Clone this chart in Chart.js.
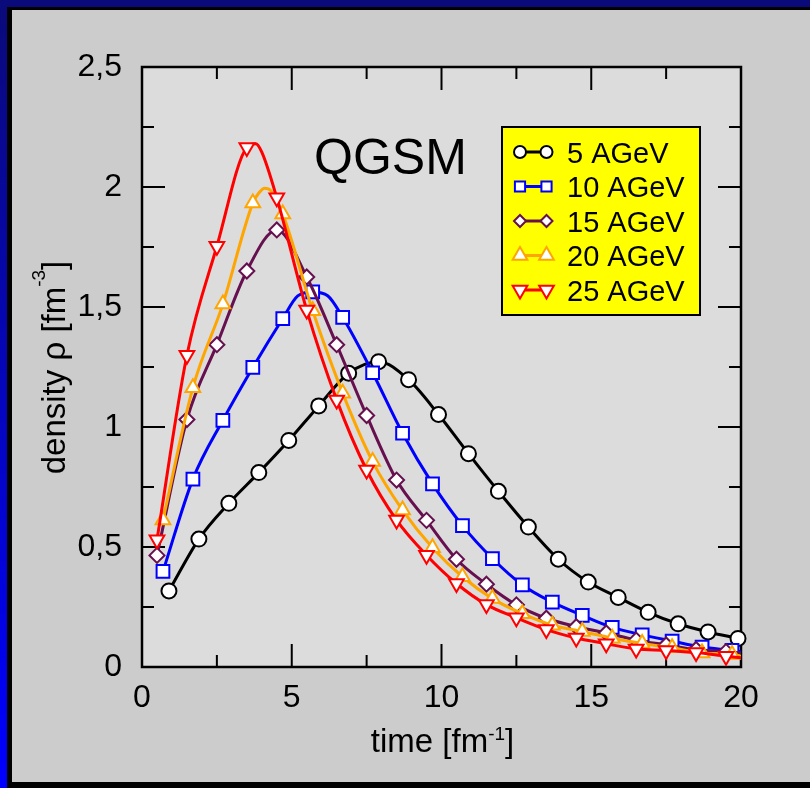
<!DOCTYPE html>
<html>
<head>
<meta charset="utf-8">
<script src="https://cdn.jsdelivr.net/npm/chart.js@4.4.1/dist/chart.umd.min.js"></script>
<style>
  html, body { margin: 0; padding: 0; background: #cccccc; }
  #wrap { width: 810px; height: 788px; }
</style>
</head>
<body>
<div id="wrap"><canvas id="densityChart" width="810" height="788"></canvas></div>
<script>
// QGSM: baryon density in the central cell vs. time for several beam energies
const seriesLabels = ['5 AGeV', '10 AGeV', '15 AGeV', '20 AGeV', '25 AGeV'];

// marker points
const t5 = [0.9, 1.9, 2.9, 3.9, 4.9, 5.9, 6.9, 7.9, 8.9, 9.9, 10.9, 11.9, 12.9, 13.9, 14.9, 15.9, 16.9, 17.9, 18.9, 19.9];
const rho5 = [0.317, 0.533, 0.682, 0.810, 0.944, 1.088, 1.224, 1.272, 1.197, 1.052, 0.889, 0.732, 0.583, 0.449, 0.354, 0.290, 0.228, 0.180, 0.146, 0.119];

const t10 = [0.7, 1.7, 2.7, 3.7, 4.7, 5.7, 6.7, 7.7, 8.7, 9.7, 10.7, 11.7, 12.7, 13.7, 14.7, 15.7, 16.7, 17.7, 18.7, 19.7];
const rho10 = [0.398, 0.783, 1.028, 1.248, 1.452, 1.563, 1.457, 1.226, 0.974, 0.763, 0.589, 0.452, 0.342, 0.270, 0.215, 0.165, 0.134, 0.108, 0.083, 0.069];

const t15 = [0.5, 1.5, 2.5, 3.5, 4.5, 5.5, 6.5, 7.5, 8.5, 9.5, 10.5, 11.5, 12.5, 13.5, 14.5, 15.5, 16.5, 17.5, 18.5, 19.5];
const rho15 = [0.465, 1.031, 1.343, 1.650, 1.821, 1.625, 1.343, 1.048, 0.779, 0.611, 0.449, 0.345, 0.259, 0.203, 0.168, 0.142, 0.112, 0.092, 0.073, 0.064];

const t20 = [0.7, 1.7, 2.7, 3.7, 4.7, 5.7, 6.7, 7.7, 8.7, 9.7, 10.7, 11.7, 12.7, 13.7, 14.7, 15.7, 16.7, 17.7, 18.7, 19.7];
const rho20 = [0.613, 1.164, 1.512, 1.933, 1.887, 1.484, 1.141, 0.856, 0.654, 0.497, 0.376, 0.285, 0.222, 0.174, 0.148, 0.120, 0.098, 0.080, 0.058, 0.052];

const t25 = [0.5, 1.5, 2.5, 3.5, 4.5, 5.5, 6.5, 7.5, 8.5, 9.5, 10.5, 11.5, 12.5, 13.5, 14.5, 15.5, 16.5, 17.5, 18.5, 19.5];
const rho25 = [0.530, 1.299, 1.753, 2.165, 1.955, 1.487, 1.113, 0.821, 0.612, 0.466, 0.348, 0.260, 0.205, 0.156, 0.121, 0.097, 0.075, 0.069, 0.060, 0.045];

// extra points of the curves that fall between markers (peaks, end at t = 20)
const tExtra5 = [];
const rhoExtra5 = [];
const tExtra10 = [5.2, 6.2, 20];
const rhoExtra10 = [1.546, 1.547, 0.064];
const tExtra15 = [20];
const rhoExtra15 = [0.058];
const tExtra20 = [3.9, 4.1, 4.3, 20];
const rhoExtra20 = [1.975, 1.995, 1.985, 0.045];
const tExtra25 = [3.8, 4.0, 20];
const rhoExtra25 = [2.18, 2.145, 0.038];

// axes
const xTickValues = [0, 5, 10, 15, 20];
const xMinorTicks = [2.5, 7.5, 12.5, 17.5];
const yTickValues = [0, 0.5, 1, 1.5, 2, 2.5];
const yTickLabels = ['0', '0,5', '1', '1,5', '2', '2,5'];
const yMinorTicks = [0.25, 0.75, 1.25, 1.75, 2.25];

const FONT = '"Liberation Sans", Arial, sans-serif';

const styles = [
  { color: '#000000', pointStyle: 'circle', rotation: 0, radius: 7.5 },
  { color: '#0000ff', pointStyle: 'rect', rotation: 0, radius: 9 },
  { color: '#66104f', pointStyle: 'rectRot', rotation: 0, radius: 7.5 },
  { color: '#ffa500', pointStyle: 'triangle', rotation: 0, radius: 8.5 },
  { color: '#ff0000', pointStyle: 'triangle', rotation: 180, radius: 8.5 }
];

const markerT = [t5, t10, t15, t20, t25];
const markerRho = [rho5, rho10, rho15, rho20, rho25];
const extraT = [tExtra5, tExtra10, tExtra15, tExtra20, tExtra25];
const extraRho = [rhoExtra5, rhoExtra10, rhoExtra15, rhoExtra20, rhoExtra25];

function toPoints(ts, rs) {
  return ts.map((t, i) => ({ x: t, y: rs[i] }));
}

const datasets = [];
styles.forEach((s, k) => {
  const curve = toPoints(markerT[k], markerRho[k])
    .concat(toPoints(extraT[k], extraRho[k]))
    .sort((a, b) => a.x - b.x);
  // curve first, markers on top; later series drawn over earlier ones
  datasets.push({
    label: seriesLabels[k] + ' curve',
    data: curve,
    borderColor: s.color,
    borderWidth: 3,
    pointRadius: 0,
    fill: false,
    cubicInterpolationMode: 'monotone',
    order: 20 - 2 * k
  });
  datasets.push({
    label: seriesLabels[k],
    data: toPoints(markerT[k], markerRho[k]),
    showLine: false,
    pointStyle: s.pointStyle,
    pointRotation: s.rotation,
    pointRadius: s.radius,
    pointBorderWidth: 2,
    pointBorderColor: s.color,
    pointBackgroundColor: '#ffffff',
    clip: false,
    order: 19 - 2 * k
  });
});

// background, frame of the plot area and inward ticks
const framePlugin = {
  id: 'framePlugin',
  beforeDraw(chart) {
    const ctx = chart.ctx;
    const W = chart.width, H = chart.height;
    const g = ctx.createLinearGradient(0, 0, 0, H);
    g.addColorStop(0, '#0a0a7a');
    g.addColorStop(1, '#0000ff');
    ctx.save();
    ctx.fillStyle = g;
    ctx.fillRect(0, 0, W, H);
    ctx.fillStyle = '#0a0a7a';
    ctx.fillRect(0, 0, W, 7);
    ctx.fillStyle = '#000000';
    ctx.fillRect(7, 7, W - 7, H - 7);
    ctx.fillStyle = '#cccccc';
    ctx.fillRect(12, 10, W - 12, 772);
    const a = chart.chartArea;
    ctx.fillStyle = '#dcdcdc';
    ctx.fillRect(a.left, a.top, a.right - a.left, a.bottom - a.top);
    ctx.restore();
  },
  beforeDatasetsDraw(chart) {
    const ctx = chart.ctx;
    const a = chart.chartArea;
    const xs = chart.scales.x, ys = chart.scales.y;
    ctx.save();
    ctx.strokeStyle = '#000000';
    ctx.lineWidth = 2;
    ctx.beginPath();
    const tick = (vals, len) => {
      vals.forEach(v => {
        const px = xs.getPixelForValue(v);
        ctx.moveTo(px, a.bottom); ctx.lineTo(px, a.bottom - len);
        ctx.moveTo(px, a.top); ctx.lineTo(px, a.top + len);
      });
    };
    const tickY = (vals, len) => {
      vals.forEach(v => {
        const py = ys.getPixelForValue(v);
        ctx.moveTo(a.left, py); ctx.lineTo(a.left + len, py);
        ctx.moveTo(a.right, py); ctx.lineTo(a.right - len, py);
      });
    };
    tick(xTickValues, 23);
    tick(xMinorTicks, 12);
    tickY(yTickValues, 23);
    tickY(yMinorTicks, 12);
    ctx.stroke();
    ctx.lineWidth = 2.5;
    ctx.strokeRect(a.left, a.top, a.right - a.left, a.bottom - a.top);
    ctx.restore();
  },
  afterDraw(chart) {
    const ctx = chart.ctx;
    ctx.save();
    ctx.fillStyle = '#000000';
    ctx.textBaseline = 'alphabetic';

    // model name
    ctx.font = '50px ' + FONT;
    ctx.textAlign = 'left';
    ctx.fillText('QGSM', 314, 174);

    // x axis title with superscript
    const xMain = 'time [fm', xSup = '-1', xEnd = ']';
    ctx.font = '33px ' + FONT;
    const xw1 = ctx.measureText(xMain).width, xw3 = ctx.measureText(xEnd).width;
    ctx.font = '19px ' + FONT;
    const xw2 = ctx.measureText(xSup).width;
    let x0 = 442.5 - (xw1 + xw2 + xw3) / 2;
    ctx.font = '33px ' + FONT;
    ctx.fillText(xMain, x0, 751.5);
    ctx.fillText(xEnd, x0 + xw1 + xw2, 751.5);
    ctx.font = '19px ' + FONT;
    ctx.fillText(xSup, x0 + xw1, 740);

    // y axis title, rotated
    ctx.save();
    ctx.translate(65, 367.5);
    ctx.rotate(-Math.PI / 2);
    const yMain = 'density ρ [fm', ySup = '-3', yEnd = ']';
    ctx.font = '33px ' + FONT;
    const yw1 = ctx.measureText(yMain).width, yw3 = ctx.measureText(yEnd).width;
    ctx.font = '19px ' + FONT;
    const yw2 = ctx.measureText(ySup).width;
    const y0 = -(yw1 + yw2 + yw3) / 2;
    ctx.font = '33px ' + FONT;
    ctx.fillText(yMain, y0, 0);
    ctx.fillText(yEnd, y0 + yw1 + yw2, 0);
    ctx.font = '19px ' + FONT;
    ctx.fillText(ySup, y0 + yw1, -20);
    ctx.restore();

    // legend box
    ctx.fillStyle = '#ffff00';
    ctx.fillRect(502, 127, 198, 188);
    ctx.strokeStyle = '#000000';
    ctx.lineWidth = 2;
    ctx.strokeRect(502, 127, 198, 188);
    styles.forEach((s, k) => {
      const cy = 152 + 34.5 * k;
      ctx.strokeStyle = s.color;
      ctx.lineWidth = 3;
      ctx.beginPath();
      ctx.moveTo(520, cy); ctx.lineTo(546.5, cy);
      ctx.stroke();
      ctx.lineWidth = 2;
      ctx.fillStyle = '#ffffff';
      const r = s.pointStyle === 'triangle' ? s.radius : s.radius * 0.8;
      [520, 546.5].forEach(px => {
        Chart.helpers.drawPoint(ctx, { pointStyle: s.pointStyle, rotation: s.rotation, radius: r, borderWidth: 2 }, px, cy);
      });
      ctx.fillStyle = '#000000';
      ctx.font = '29px ' + FONT;
      ctx.fillText(seriesLabels[k], 567, cy + 10.5);
    });
    ctx.restore();
  }
};

const ctx = document.getElementById('densityChart').getContext('2d');
const chart = new Chart(ctx, {
  type: 'line',
  data: { datasets: datasets },
  options: {
    responsive: false,
    animation: false,
    events: [],
    layout: { padding: { left: 0, top: 67, right: 69, bottom: 0 } },
    plugins: {
      legend: { display: false },
      tooltip: { enabled: false }
    },
    scales: {
      x: {
        type: 'linear',
        min: 0,
        max: 20,
        afterBuildTicks: s => { s.ticks = xTickValues.map(v => ({ value: v })); },
        afterFit: s => { s.height = 121; },
        grid: { display: false },
        border: { display: false },
        ticks: { color: '#000000', font: { family: FONT, size: 32 }, padding: 4, maxRotation: 0, autoSkip: false }
      },
      y: {
        type: 'linear',
        min: 0,
        max: 2.5,
        afterBuildTicks: s => { s.ticks = yTickValues.map(v => ({ value: v })); },
        afterFit: s => { s.width = 142; },
        grid: { display: false },
        border: { display: false },
        ticks: {
          color: '#000000',
          font: { family: FONT, size: 32 },
          padding: 12,
          autoSkip: false,
          callback: v => yTickLabels[yTickValues.indexOf(v)]
        }
      }
    }
  },
  plugins: [framePlugin]
});
</script>
</body>
</html>
